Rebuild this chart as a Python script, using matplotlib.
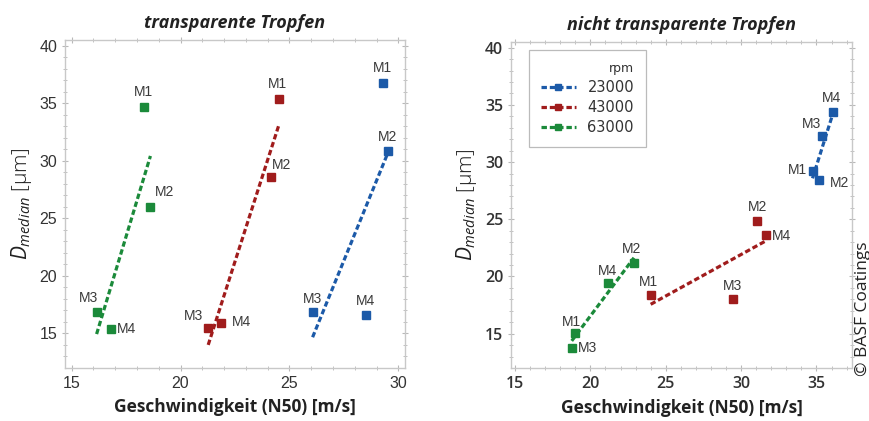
import numpy as np
import matplotlib
matplotlib.use("Agg")
import matplotlib.pyplot as plt
from matplotlib.lines import Line2D

plt.rcParams['mathtext.fontset'] = 'custom'
plt.rcParams['mathtext.it'] = 'Open Sans:italic'
plt.rcParams['mathtext.rm'] = 'Open Sans'

# ---------------- data ----------------
series_rpm = ["23000", "43000", "63000"]
point_labels = ["M1", "M2", "M3", "M4"]

# transparente Tropfen
t_x_23000 = [29.27, 29.52, 26.06, 28.53]
t_y_23000 = [36.73, 30.84, 16.87, 16.64]
t_x_43000 = [24.50, 24.13, 21.27, 21.85]
t_y_43000 = [35.34, 28.56, 15.51, 15.91]
t_x_63000 = [18.33, 18.62, 16.15, 16.79]
t_y_63000 = [34.70, 25.97, 16.87, 15.40]

# nicht transparente Tropfen
n_x_23000 = [34.74, 35.16, 35.34, 36.11]
n_y_23000 = [29.19, 28.47, 32.32, 34.35]
n_x_43000 = [24.00, 31.07, 29.44, 31.62]
n_y_43000 = [18.41, 24.84, 18.03, 23.60]
n_x_63000 = [18.98, 22.89, 18.76, 21.19]
n_y_63000 = [15.05, 21.16, 13.77, 19.43]

colors = {"23000": "#1c5aa8", "43000": "#a01c1c", "63000": "#1b8a3a"}

# label offsets in pixels (style only)
t_offsets = {
    "23000": [(0, 15, 'center'), (0, 14, 'center'), (0, 13, 'center'), (-1, 14, 'center')],
    "43000": [(-1, 15, 'center'), (11, 12, 'center'), (-15, 12, 'center'), (11, 1, 'left')],
    "63000": [(-1, 15, 'center'), (14, 15, 'center'), (-8, 14, 'center'), (6, 0, 'left')],
}
n_offsets = {
    "23000": [(-6, 1, 'right'), (11, -3, 'left'), (-10, 12, 'center'), (-2, 14, 'center')],
    "43000": [(-2, 13, 'center'), (0, 14, 'center'), (0, 13, 'center'), (6, -1, 'left')],
    "63000": [(-4, 11, 'center'), (-2, 14, 'center'), (6, 0, 'left'), (-1, 12, 'center')],
}

W, H = 870, 421
fig = plt.figure(figsize=(W / 100, H / 100), dpi=100)

ax1 = fig.add_axes([65 / W, 1 - 368 / H, (405 - 65) / W, (368 - 40) / H])
ax2 = fig.add_axes([511 / W, 1 - 368 / H, (852 - 511) / W, (368 - 42) / H])

LW = 2.3
DASH = (1.7, 0.9)


def style_axes(ax, xlim, xticks, tickfont):
    ax.set_xlim(*xlim)
    ax.set_ylim(12.0, 40.5)
    ax.set_xticks(xticks)
    ax.set_yticks([15, 20, 25, 30, 35, 40])
    ax.set_xticks(np.arange(15, xlim[1], 1.0), minor=True)
    ax.set_yticks(np.arange(13, 41, 1.0), minor=True)
    for s in ax.spines.values():
        s.set_color('#c8c8c8')
        s.set_linewidth(1.0)
    ax.tick_params(which='both', direction='inout', color='#b8b8b8',
                   top=True, right=True, labeltop=False, labelright=False)
    ax.tick_params(which='major', length=5, width=0.8, labelsize=11.5,
                   labelcolor='#333333', pad=3)
    ax.tick_params(which='minor', length=3, width=0.6)
    for lab in ax.get_xticklabels() + ax.get_yticklabels():
        lab.set_fontfamily(tickfont[0])
        lab.set_fontweight(tickfont[1])


def draw_panel(ax, data, offsets):
    for rpm, (xs, ys) in data.items():
        c = colors[rpm]
        xs = np.asarray(xs)
        ys = np.asarray(ys)
        k, d = np.polyfit(xs, ys, 1)
        xr = np.array([xs.min(), xs.max()])
        ax.plot(xr, k * xr + d, color=c, lw=LW, dashes=DASH, zorder=2,
                solid_capstyle='butt', dash_capstyle='butt')
        ax.plot(xs, ys, 's', color=c, ms=5.8, mec=c, zorder=3)
        for lbl, x, y, (ox, oy, ha) in zip(point_labels, xs, ys, offsets[rpm]):
            ax.annotate(lbl, (x, y), xytext=(ox, oy), textcoords='offset pixels',
                        ha=ha, va='center', fontsize=10, color='#3a3a3a',
                        fontfamily='Liberation Sans', zorder=4)


draw_panel(ax1, {"23000": (t_x_23000, t_y_23000),
                 "43000": (t_x_43000, t_y_43000),
                 "63000": (t_x_63000, t_y_63000)}, t_offsets)
draw_panel(ax2, {"23000": (n_x_23000, n_y_23000),
                 "43000": (n_x_43000, n_y_43000),
                 "63000": (n_x_63000, n_y_63000)}, n_offsets)

style_axes(ax1, (14.7, 30.3), [15, 20, 25, 30], ('Liberation Sans', 'normal'))
style_axes(ax2, (14.73, 37.36), [15, 20, 25, 30, 35], ('Open Sans', 'semibold'))

for ax, title in [(ax1, "transparente Tropfen"), (ax2, "nicht transparente Tropfen")]:
    ax.set_title(title, fontsize=13, fontweight='bold', style='italic',
                 fontfamily='Open Sans', color='#222222', pad=9)
    ax.set_xlabel("Geschwindigkeit (N50) [m/s]", fontsize=12.5, fontweight='bold',
                  fontfamily='Open Sans', color='#222222', labelpad=5)
    ax.set_ylabel(r"$D_{median}$ [µm]", fontsize=15, fontfamily='Open Sans',
                  fontweight='light', color='#222222', labelpad=4)

handles = [Line2D([0], [0], color=colors[r], lw=LW, dashes=DASH, marker='s',
                  ms=5, mec=colors[r]) for r in series_rpm]
leg = ax2.legend(handles, series_rpm, title="rpm", loc='upper left',
                 bbox_to_anchor=(0.053, 0.975), borderaxespad=0,
                 fancybox=False, edgecolor='#bbbbbb', framealpha=1,
                 handlelength=2.4, numpoints=1, fontsize=10.5,
                 title_fontsize=9, alignment='right', labelspacing=0.35,
                 borderpad=0.8, handletextpad=0.8)
leg.get_frame().set_linewidth(0.9)
for t in leg.get_texts():
    t.set_color('#333333')
leg.get_title().set_color('#333333')

fig.text(0.992, 1 - 309 / H, "© BASF Coatings", rotation=90, ha='center', va='center',
         fontsize=12.5, fontfamily='Open Sans', color='#222222')

fig.savefig("out.png", dpi=100)
